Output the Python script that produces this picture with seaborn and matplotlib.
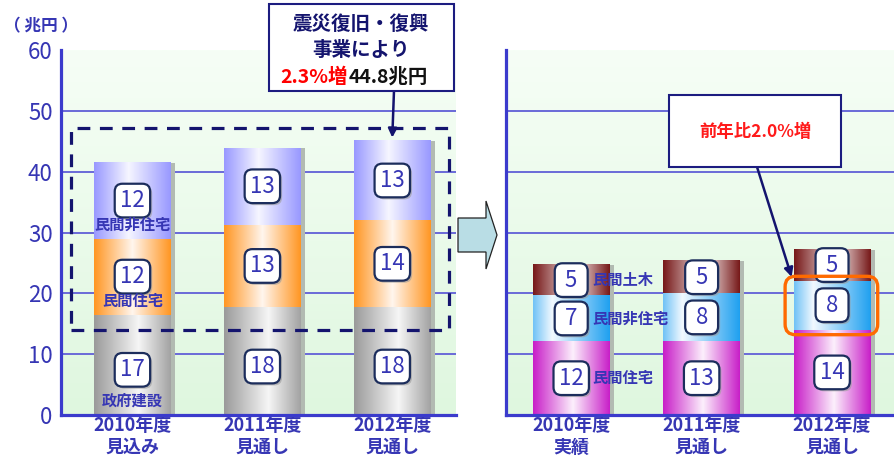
import matplotlib
import matplotlib.pyplot as plt
import matplotlib.patheffects as pe
import numpy as np
import pandas as pd
import seaborn as sns
from matplotlib.colors import LinearSegmentedColormap
from matplotlib.patches import FancyBboxPatch, Polygon, Rectangle

matplotlib.use("Agg")

# ---- data (兆円) ----
left_years = ["2010年度\n見込み", "2011年度\n見通し", "2012年度\n見通し"]
left_names = ["政府建設", "民間住宅", "民間非住宅"]
gov_left = [16.5, 17.7, 17.7]
res_left = [12.5, 13.6, 14.3]
nonres_left = [12.5, 12.6, 13.1]
gov_left_lbl = ["17", "18", "18"]
res_left_lbl = ["12", "13", "14"]
nonres_left_lbl = ["12", "13", "13"]

right_years = ["2010年度\n実績", "2011年度\n見通し", "2012年度\n見通し"]
right_names = ["民間住宅", "民間非住宅", "民間土木"]
res_right = [12.1, 12.1, 14.0]
nonres_right = [7.55, 7.9, 8.1]
civil_right = [5.05, 5.3, 5.1]
res_right_lbl = ["12", "13", "14"]
nonres_right_lbl = ["7", "8", "8"]
civil_right_lbl = ["5", "5", "5"]

BLUE = "#3636b4"
NAVY = "#14146e"
SPINE = "#3b3bcc"
GRID = "#6a6ad8"

sns.set_style("white")
plt.rcParams["font.family"] = ["Noto Sans CJK JP", "DejaVu Sans"]


def cmap3(c0, mid, c1, pos=0.55):
    return LinearSegmentedColormap.from_list("g", [(0, c0), (pos, mid), (1, c1)])


GRADS = {
    "政府建設": cmap3("#9a9a9a", "#f6f6f6", "#a2a2a2", 0.58),
    "民間住宅L": cmap3("#ff9622", "#fff6ee", "#ff9622", 0.5),
    "民間非住宅L": cmap3("#9898ff", "#f6f6ff", "#9898ff", 0.45),
    "民間住宅R": cmap3("#c81ec8", "#fcf0fc", "#c81ec8", 0.52),
    "民間非住宅R": cmap3("#70c2f6", "#f2f9ff", "#1fa0f0", 0.25),
    "民間土木": cmap3("#761818", "#f6ecec", "#761818", 0.55),
}


def setup_axes(ax, show_y):
    bg = LinearSegmentedColormap.from_list("bg", ["#dff7df", "#f6fef6"])
    ax.imshow(np.linspace(0, 1, 256).reshape(-1, 1), cmap=bg, origin="lower",
              extent=(0, 1, 0, 1), transform=ax.transAxes, aspect="auto", zorder=0)
    ax.set_ylim(0, 60)
    ax.set_yticks(range(0, 61, 10))
    ax.grid(axis="y", color=GRID, lw=1.4)
    ax.grid(axis="x", visible=False)
    ax.set_axisbelow(True)
    ax.get_ygridlines()[-1].set_visible(False)
    for s in ["top", "right"]:
        ax.spines[s].set_visible(False)
    for s in ["left", "bottom"]:
        ax.spines[s].set_color(SPINE)
        ax.spines[s].set_linewidth(2.3)
        ax.spines[s].set_zorder(8)
    ax.tick_params(axis="y", length=0, pad=6, labelsize=16, labelcolor=BLUE,
                   labelleft=show_y)
    ax.tick_params(axis="x", length=0, pad=1)
    for t in ax.get_xticklabels():
        t.set_fontsize(13)
        t.set_fontweight("bold")
        t.set_color(BLUE)
        t.set_linespacing(1.15)
    ax.set_xlabel("")
    ax.set_ylabel("")


def value_box(ax, x, y, text):
    s = text if len(text) > 1 else f" {text} "
    t = ax.text(x, y, s, ha="center", va="center", fontsize=16, color=BLUE, zorder=6,
                bbox=dict(boxstyle="round,pad=0.24,rounding_size=0.35", fc="white",
                          ec="#1c2d5c", lw=1.6))
    t.get_bbox_patch().set_path_effects(
        [pe.SimplePatchShadow(offset=(1.5, -1.5), shadow_rgbFace="#9a9a9a", alpha=0.6),
         pe.Normal()])


def draw_stack(ax, cats, segments):
    bottom = np.zeros(len(cats))
    tops = []
    for key, vals, lbls, box_frac in segments:
        df = pd.DataFrame({"cat": cats, "val": vals})
        n0 = len(ax.patches)
        sns.barplot(data=df, x="cat", y="val", order=cats, bottom=bottom, width=0.59,
                    color="#cccccc", linewidth=0, errorbar=None, ax=ax, zorder=2)
        for p in ax.patches[n0:]:
            p.set_path_effects([pe.SimplePatchShadow(offset=(3, 0), shadow_rgbFace="#b2bab2",
                                                     alpha=1.0), pe.Normal()])
            x, y, w, h = p.get_x(), p.get_y(), p.get_width(), p.get_height()
            ax.imshow(np.linspace(0, 1, 256).reshape(1, -1), cmap=GRADS[key],
                      extent=(x, x + w, y, y + h), aspect="auto", zorder=2.5,
                      interpolation="bilinear")
        for i, (v, lb) in enumerate(zip(vals, lbls)):
            value_box(ax, i, bottom[i] + v * box_frac, lb)
        tops.append(bottom.copy())
        bottom = bottom + np.asarray(vals)
    tops.append(bottom.copy())
    return tops


fig = plt.figure(figsize=(8.94, 4.61), dpi=100)
ax1 = fig.add_axes([0.0682, 0.0998, 0.4418, 0.7917])
ax2 = fig.add_axes([0.566, 0.0998, 0.434, 0.7917])

# ---- left panel ----
lb = draw_stack(ax1, left_years, [
    ("政府建設", gov_left, gov_left_lbl, 0.45),
    ("民間住宅L", res_left, res_left_lbl, 0.5),
    ("民間非住宅L", nonres_left, nonres_left_lbl, 0.5),
])
ax1.set_xlim(-0.55, 2.49)
setup_axes(ax1, True)
for k, name in enumerate(left_names):
    ax1.text(0, lb[k][0] + 2.3, name, ha="center", va="center", fontsize=11,
             fontweight="bold", color=BLUE, zorder=6)

ax1.add_patch(Rectangle((-0.47, 14.0), 2.91, 33.1, fill=False, ec=NAVY, lw=2.3,
                        ls=(0, (4, 3)), zorder=7))

fig.text(0.004, 0.942, "（ 兆円 ）", fontsize=12, fontweight="bold", color=BLUE,
         ha="left", va="center")

# callout (left)
fig.add_artist(Rectangle((0.3009, 0.8026), 0.2069, 0.1887, transform=fig.transFigure,
                         fc="white", ec="#1c1c80", lw=1.5, zorder=9))
fig.text(0.4038, 0.9458, "震災復旧・復興", fontsize=14, fontweight="bold", color=NAVY,
         ha="center", va="center", zorder=10)
fig.text(0.4038, 0.8915, "事業により", fontsize=14, fontweight="bold", color=NAVY,
         ha="center", va="center", zorder=10)
fig.text(0.3885, 0.833, "2.3%増", fontsize=14, fontweight="bold", color="#ff0000",
         ha="right", va="center", zorder=10)
fig.text(0.3905, 0.833, "44.8兆円", fontsize=14, fontweight="bold", color="#111111",
         ha="left", va="center", zorder=10)
ax1.annotate("", xy=(2, 45.6), xycoords="data", xytext=(0.4407, 0.8026),
             textcoords="figure fraction", annotation_clip=False,
             arrowprops=dict(arrowstyle="-|>", color=NAVY, lw=1.8, mutation_scale=13,
                             shrinkA=0, shrinkB=0), zorder=10)

# ---- right panel ----
rb = draw_stack(ax2, right_years, [
    ("民間住宅R", res_right, res_right_lbl, 0.5),
    ("民間非住宅R", nonres_right, nonres_right_lbl, 0.5),
    ("民間土木", civil_right, civil_right_lbl, 0.5),
])
ax2.set_xlim(-0.5, 2.475)
setup_axes(ax2, False)
seg_right = [res_right, nonres_right, civil_right]
for k, name in enumerate(right_names):
    ax2.text(0.16, rb[k][0] + seg_right[k][0] * 0.5, name, ha="left", va="center",
             fontsize=11, fontweight="bold", color=BLUE, zorder=6)

# highlight box on 2012 非住宅
fig.canvas.draw()
p0 = ax2.transData.transform((0, 0))
p1 = ax2.transData.transform((1, 1))
aspect = (p1[0] - p0[0]) / (p1[1] - p0[1])
hx0, hx1 = 2 - 0.36, 2 + 0.35
hy0, hy1 = rb[1][2] - 0.8, rb[2][2] + 0.7
ax2.add_patch(FancyBboxPatch((hx0, hy0), hx1 - hx0, hy1 - hy0,
                             boxstyle="round,pad=0,rounding_size=0.08",
                             mutation_aspect=aspect, fill=False, ec="#ff6a00", lw=2.4,
                             zorder=7))

fig.add_artist(Rectangle((0.7483, 0.6377), 0.1924, 0.1562, transform=fig.transFigure,
                         fc="white", ec="#1c1c80", lw=1.5, zorder=9))
fig.text(0.8445, 0.7137, "前年比2.0%増", fontsize=12.5, fontweight="bold", color="#ff1a1a",
         ha="center", va="center", zorder=10)
ax2.annotate("", xy=(hx0 + 0.05, hy1 - 0.1), xycoords="data", xytext=(0.8468, 0.6377),
             textcoords="figure fraction", annotation_clip=False,
             arrowprops=dict(arrowstyle="-|>", color=NAVY, lw=1.8, mutation_scale=13,
                             shrinkA=0, shrinkB=0), zorder=10)

# block arrow between panels
W, H = 894, 461
pts = [(458, 218), (486, 218), (486, 201), (497, 235), (486, 269), (486, 252), (458, 252)]
fig.add_artist(Polygon([(x / W, 1 - y / H) for x, y in pts], closed=True,
                       transform=fig.transFigure, fc="#b9dde5", ec="#222222", lw=0.9,
                       zorder=9))

fig.savefig("out.png", dpi=100)
plt.close(fig)
